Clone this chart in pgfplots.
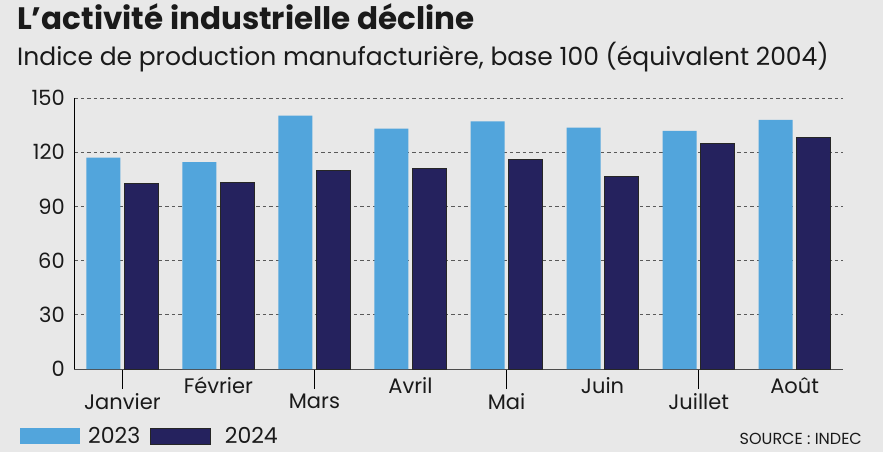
\documentclass[border=0pt]{standalone}
\usepackage{pgfplots}
\pgfplotsset{compat=1.18}
\usepackage{fontspec}
\setmainfont{Poppins}
\definecolor{bg}{HTML}{E8E8E8}
\definecolor{c23}{HTML}{52A5DC}
\definecolor{c24}{HTML}{25225E}
\definecolor{txt}{HTML}{1A1A1A}
\begin{document}
\begin{tikzpicture}[x=1pt,y=1pt]
\useasboundingbox (0,0) rectangle (883,452);
\fill[bg] (0,0) rectangle (883,452);
\node[anchor=base west,inner sep=0pt,text=txt] at (17,422) {\fontsize{31}{33}\selectfont\bfseries L’activité industrielle décline};
\node[anchor=base west,inner sep=0pt,text=txt] at (17,386) {\fontsize{25}{28}\selectfont Indice de production manufacturière, base 100 (équivalent 2004)};
\node[anchor=base east,inner sep=0pt,text=txt] at (862,7) {\fontsize{16}{18}\selectfont SOURCE : INDEC};
\begin{axis}[
  at={(74.3pt,83pt)}, anchor=south west,
  scale only axis, width=768.4pt, height=271pt,
  xmin=-0.5, xmax=7.5, ymin=0, ymax=150,
  axis x line*=bottom, axis y line*=left,
  x axis line style={draw=black!70, line width=0.8pt, -},
  y axis line style={draw=black, line width=0.8pt, -},
  ybar=4pt, bar width=34pt,
  ytick={0,30,60,90,120,150},
  ymajorgrids,
  grid style={dashed, draw=black!65, line width=0.6pt, dash pattern=on 3.5pt off 3pt},
  ytick style={draw=none},
  xtick style={draw=black, line width=0.8pt},
  tick align=outside,
  major tick length=20pt,
  /pgf/number format/assume math mode=true,
  ticklabel style={font=\fontsize{21}{24}\selectfont, text=txt},
  yticklabel style={xshift=14pt},
  xtick={0,2,4,6},
  xticklabels={Janvier,Mars,Mai,Juillet},
  xticklabel style={yshift=-1pt},
  extra x ticks={1,3,5,7},
  extra x tick labels={Février,Avril,Juin,Août},
  extra x tick style={major tick length=0pt, grid=none, xtick style={draw=none}, xticklabel style={yshift=-4pt}},
  legend style={draw=none, fill=none,
    font=\fontsize{22}{24}\selectfont, legend columns=2, text=txt,
    /tikz/every even column/.append style={column sep=8pt},
    at={(-0.0746,-0.248)}, anchor=west},
  legend cell align=left,
  legend image code/.code={\fill[#1] (0pt,-8pt) rectangle (60pt,8pt);},
]
\addplot[fill=c23, draw=none] coordinates {(0,117) (1,114.5) (2,140.3) (3,133.1) (4,137) (5,133.6) (6,131.8) (7,137.9)};
\addplot[fill=c24, draw=black!85, line width=0.6pt] coordinates {(0,102.8) (1,103.5) (2,110.1) (3,111) (4,116) (5,106.6) (6,124.8) (7,128)};
\legend{\hspace{6pt}2023,\hspace{12pt}2024}
\end{axis}
\end{tikzpicture}
\end{document}
